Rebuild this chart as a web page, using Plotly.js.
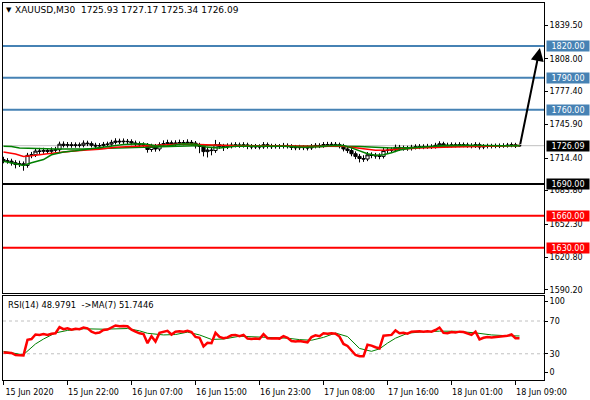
<!DOCTYPE html>
<html><head><meta charset="utf-8">
<script src="https://cdn.plot.ly/plotly-3.0.1.min.js"></script>
<style>html,body{margin:0;padding:0;background:#fff}#chart{width:590px;height:400px}</style>
</head><body><div id="chart"></div>
<script>
// ---- data ----
const symbolTitle = 'XAUUSD,M30  1725.93 1727.17 1725.34 1726.09';
const rsiTitle = 'RSI(14) 48.9791  ->MA(7) 51.7446';

const openP = [1713.0,1711.8,1711.5,1710.0,1708.3,1709.0,1707.5,1717.0,1717.5,1721.0,
1720.8,1721.5,1720.8,1721.8,1722.3,1727.5,1726.5,1727.0,1726.3,1726.8,
1726.5,1728.5,1728.0,1726.5,1725.8,1726.2,1727.3,1727.5,1729.2,1730.3,
1729.8,1730.2,1729.9,1728.6,1727.8,1727.0,1726.5,1722.5,1725.5,1723.0,
1727.0,1728.0,1728.8,1727.5,1728.5,1729.0,1728.8,1729.2,1728.5,1726.0,
1725.5,1720.5,1722.0,1721.5,1727.0,1725.5,1725.0,1725.5,1726.5,1726.8,
1726.2,1726.8,1725.3,1725.0,1725.2,1725.0,1727.0,1725.5,1725.2,1725.5,
1725.3,1726.3,1725.5,1724.5,1724.2,1724.5,1724.3,1724.0,1725.5,1726.3,
1726.0,1727.2,1727.0,1727.3,1727.0,1725.8,1723.0,1721.5,1718.5,1716.0,
1714.0,1713.5,1717.5,1717.0,1716.5,1716.0,1721.5,1721.8,1722.0,1724.5,
1723.5,1723.8,1723.5,1724.5,1725.0,1725.2,1725.0,1725.3,1725.2,1726.5,
1727.8,1726.5,1726.3,1726.8,1726.6,1727.0,1726.8,1726.3,1725.8,1727.0,
1724.8,1725.5,1725.8,1725.6,1725.9,1726.0,1726.2,1726.5,1726.9,1725.93];
const highP = [1715.6,1714.3,1713.8,1712.4,1711.9,1711.2,1719.3,1720.2,1723.3,1724.0,
1724.1,1723.9,1724.5,1725.0,1729.9,1730.1,1729.5,1729.4,1729.2,1729.1,
1731.1,1730.8,1730.1,1728.8,1728.5,1729.6,1729.9,1731.6,1733.1,1732.7,
1732.9,1732.4,1732.1,1730.9,1730.0,1729.3,1728.6,1727.9,1727.7,1729.3,
1731.1,1731.7,1731.0,1731.2,1731.8,1731.4,1732.1,1731.4,1730.5,1728.8,
1727.7,1725.1,1724.9,1731.5,1729.4,1727.8,1728.3,1729.0,1729.4,1729.0,
1729.4,1728.9,1727.6,1727.7,1727.4,1729.5,1729.1,1727.9,1727.8,1727.6,
1728.7,1728.3,1727.5,1726.8,1726.9,1726.6,1726.4,1727.7,1728.5,1728.4,
1729.5,1729.7,1729.6,1729.5,1729.0,1727.8,1725.3,1723.7,1720.7,1718.3,
1717.1,1720.1,1719.8,1719.3,1718.9,1723.8,1724.3,1724.5,1727.1,1726.8,
1726.2,1726.0,1726.9,1727.4,1727.6,1727.4,1727.8,1727.5,1728.8,1730.3,
1729.8,1728.9,1729.2,1729.0,1729.4,1729.1,1728.9,1728.4,1729.4,1729.0,
1727.6,1728.0,1727.9,1728.1,1728.2,1728.4,1728.7,1729.1,1728.8,1727.17];
const lowP = [1709.5,1709.1,1707.3,1704.7,1706.0,1702.5,1705.3,1714.3,1715.4,1718.3,
1718.5,1718.4,1718.7,1719.5,1720.4,1724.4,1724.3,1724.1,1724.2,1724.3,
1724.5,1725.7,1724.4,1723.5,1723.7,1724.4,1725.2,1725.5,1727.2,1727.6,
1727.8,1727.5,1726.5,1725.7,1724.8,1724.2,1719.5,1720.3,1720.4,1720.9,
1725.0,1726.0,1725.3,1725.5,1726.5,1726.5,1726.8,1726.1,1723.4,1719.0,
1716.0,1715.0,1717.0,1719.3,1723.1,1721.1,1722.9,1723.5,1724.4,1724.1,
1724.3,1722.8,1722.7,1723.0,1722.6,1723.1,1723.4,1723.0,1723.3,1723.1,
1723.4,1723.4,1722.0,1721.8,1722.1,1721.9,1721.6,1722.1,1723.5,1723.8,
1724.1,1724.9,1725.0,1724.8,1723.5,1720.7,1719.1,1716.1,1713.4,1710.3,
1710.8,1711.5,1714.3,1713.8,1713.3,1714.0,1719.1,1719.5,1720.0,1721.2,
1721.4,1721.3,1721.5,1722.5,1722.8,1722.8,1723.1,1723.0,1723.3,1724.5,
1724.3,1724.2,1724.4,1724.4,1724.6,1724.6,1724.1,1723.6,1723.9,1722.5,
1722.8,1723.5,1723.5,1723.7,1723.8,1724.1,1724.3,1724.6,1723.9,1725.34];
const closeP = [1711.8,1711.5,1710.0,1708.3,1709.0,1707.5,1717.0,1717.5,1721.0,1720.8,
1721.5,1720.8,1721.8,1722.3,1727.5,1726.5,1727.0,1726.3,1726.8,1726.5,
1728.5,1728.0,1726.5,1725.8,1726.2,1727.3,1727.5,1729.2,1730.3,1729.8,
1730.2,1729.9,1728.6,1727.8,1727.0,1726.5,1722.5,1725.5,1723.0,1727.0,
1728.0,1728.8,1727.5,1728.5,1729.0,1728.8,1729.2,1728.5,1726.0,1725.5,
1720.5,1722.0,1721.5,1727.0,1725.5,1725.0,1725.5,1726.5,1726.8,1726.2,
1726.8,1725.3,1725.0,1725.2,1725.0,1727.0,1725.5,1725.2,1725.5,1725.3,
1726.3,1725.5,1724.5,1724.2,1724.5,1724.3,1724.0,1725.5,1726.3,1726.0,
1727.2,1727.0,1727.3,1727.0,1725.8,1723.0,1721.5,1718.5,1716.0,1714.0,
1713.5,1717.5,1717.0,1716.5,1716.0,1721.5,1721.8,1722.0,1724.5,1723.5,
1723.8,1723.5,1724.5,1725.0,1725.2,1725.0,1725.3,1725.2,1726.5,1727.8,
1726.5,1726.3,1726.8,1726.6,1727.0,1726.8,1726.3,1725.8,1727.0,1724.8,
1725.5,1725.8,1725.6,1725.9,1726.0,1726.2,1726.5,1726.9,1725.93,1726.09];
const barIndex = openP.map((_, i) => i);

const maSlowBar = [0,2,4,8,13,20,27,33,41,50,60,70,80,85,89,93,97,101,106,112,120,129];
const maSlow = [1725.6,1725.3,1724.0,1723.4,1723.0,1723.0,1723.8,1724.8,1725.6,1726.3,1726.2,1726.0,1725.9,1726.0,1725.4,1724.6,1724.0,1724.2,1724.9,1725.6,1725.9,1726.0];
const maMidBar = [0,3,5,7,11,14,17,20,24,28,33,40,45,50,55,60,70,80,84,87,90,93,96,100,104,110,116,122,129];
const maMid = [1720.2,1718.3,1716.0,1716.5,1718.5,1719.9,1720.8,1721.8,1722.7,1724.6,1725.8,1726.8,1727.6,1727.0,1725.9,1725.9,1725.7,1725.4,1726.0,1724.5,1722.8,1721.8,1722.0,1723.0,1723.8,1724.6,1725.3,1726.0,1726.3];
const maFastBar = [0,3,5,7,10,12,15,18,21,25,30,35,38,41,45,48,51,54,58,64,70,75,79,83,85,87,89,91,93,95,97,99,102,105,110,115,120,125,129];
const maFast = [1711.5,1709.5,1707.5,1710.0,1713.0,1717.5,1720.2,1721.4,1723.0,1725.0,1727.3,1727.8,1726.0,1725.8,1728.0,1727.5,1724.5,1724.0,1725.6,1725.6,1725.5,1724.6,1725.0,1726.5,1726.3,1724.0,1721.0,1718.5,1717.0,1717.5,1719.5,1722.0,1724.0,1725.0,1726.2,1726.6,1726.0,1726.0,1726.2];

const rsi = [31.5,31.5,31.0,28.5,28.5,28.0,47.0,48.0,53.5,53.0,
54.0,53.0,54.5,55.0,62.5,60.0,61.0,59.5,60.5,60.0,
62.0,61.0,57.0,55.0,56.0,59.0,59.5,62.5,64.5,63.5,
64.0,63.5,59.5,57.0,55.0,54.0,43.0,51.5,45.0,55.5,
57.0,58.0,53.5,57.0,57.5,57.0,58.0,56.5,50.5,49.5,
39.0,43.5,43.0,55.5,50.5,49.0,50.0,52.5,53.0,51.5,
53.0,48.5,48.0,48.5,48.0,54.0,49.0,48.5,49.0,48.5,
51.5,49.5,45.5,45.0,45.5,45.0,44.0,50.5,52.5,51.5,
55.0,54.5,55.0,54.5,51.0,42.0,39.5,34.0,28.5,27.0,
27.0,41.0,40.0,38.0,36.5,52.0,52.5,53.0,58.5,55.0,
55.5,54.5,57.0,57.5,57.5,57.0,57.5,57.0,59.0,62.0,
55.5,55.0,56.5,56.0,57.0,56.5,55.0,53.0,57.0,47.5,
49.5,50.5,50.0,50.5,51.0,51.5,52.0,53.5,49.0,48.98];
const rsiMaBar = [0,2,4,5,6,8,10,13,16,20,25,31,34,36,40,43,46,49,52,55,59,63,67,71,74,77,80,83,86,88,89,92,94,96,98,101,104,109,113,118,122,126,129];
const rsiMa = [33.0,31.0,29.5,29.0,33.0,42.0,48.0,55.5,58.5,60.5,60.0,60.8,58.0,55.0,53.0,53.5,56.4,53.0,47.5,48.0,51.4,50.5,50.0,49.0,47.3,46.5,50.0,55.3,51.0,41.0,36.5,33.0,36.0,43.0,49.0,55.0,56.5,57.6,57.5,55.5,53.0,52.0,51.74];

const blueLevels = [1820, 1790, 1760];
const blackLevels = [1690];
const redLevels = [1660, 1630];
const lastPrice = 1726.09;
const rsiLevels = [70, 30];

const priceTicks = [1839.50, 1808.00, 1777.40, 1745.90, 1714.40, 1683.80, 1652.30, 1620.80, 1590.20];
const rsiTickText = ['100', '70', '30', '0'];
const timeTickBars = [0, 16, 32, 48, 64, 80, 96, 112, 128];
const timeTickText = ['15 Jun 2020','15 Jun 22:00','16 Jun 07:00','16 Jun 15:00','16 Jun 23:00','17 Jun 08:00','17 Jun 16:00','18 Jun 01:00','18 Jun 09:00'];

const arrowFrom = [129.1, 1726.09];
const arrowTo = [134.1, 1818.1];

// ---- chart ----
const FONT = 'DejaVu Sans';
const FS = 8;
const W = 590, H = 400, ML = 3, MR = 46, MT = 3, MB = 20;
const PW = W - ML - MR, PH = H - MT - MB;
const pxToPaperX = px => (px - ML) / PW;
const pxToPaperY = py => (H - MB - py) / PH;

const traces = [
  {type: 'scatter', mode: 'lines', x: maSlowBar, y: maSlow, xaxis: 'x', yaxis: 'y', line: {color: '#008000', width: 1.5}, hoverinfo: 'skip'},
  {type: 'scatter', mode: 'lines', x: maMidBar, y: maMid, xaxis: 'x', yaxis: 'y', line: {color: '#ff0000', width: 1.5}, hoverinfo: 'skip'},
  {type: 'scatter', mode: 'lines', x: maFastBar, y: maFast, xaxis: 'x', yaxis: 'y', line: {color: '#008000', width: 1.5}, hoverinfo: 'skip'},
  {type: 'candlestick', x: barIndex, open: openP, high: highP, low: lowP, close: closeP,
   xaxis: 'x', yaxis: 'y', hoverinfo: 'skip', whiskerwidth: 0,
   increasing: {line: {color: '#000', width: 1}, fillcolor: '#fff'},
   decreasing: {line: {color: '#000', width: 1}, fillcolor: '#000'}},
  {type: 'scatter', mode: 'lines', x: rsiMaBar, y: rsiMa, xaxis: 'x2', yaxis: 'y2', line: {color: '#008000', width: 1}, hoverinfo: 'skip'},
  {type: 'scatter', mode: 'lines', x: barIndex, y: rsi, xaxis: 'x2', yaxis: 'y2', line: {color: '#ff0000', width: 2.5}, hoverinfo: 'skip'}
];

const shapes = [];
shapes.push({type: 'line', xref: 'paper', x0: 0, x1: 1, yref: 'y', y0: lastPrice, y1: lastPrice, layer: 'below', line: {color: '#c0c0c0', width: 1}});
const addLevels = (arr, color) => arr.forEach(v => shapes.push({type: 'line', xref: 'paper', x0: 0, x1: 1, yref: 'y', y0: v, y1: v, line: {color: color, width: 2}}));
addLevels(blueLevels, '#4682b4');
addLevels(blackLevels, '#000000');
addLevels(redLevels, '#ff0000');
rsiLevels.forEach(v => shapes.push({type: 'line', xref: 'paper', x0: 0, x1: 1, yref: 'y2', y0: v, y1: v, layer: 'below', line: {color: '#c0c0c0', width: 1, dash: '3px,3px'}}));

const annotations = [];
const boxX = pxToPaperX(546);
const addBox = (v, bg) => annotations.push({xref: 'paper', x: boxX, xanchor: 'left', yref: 'y', y: v, yanchor: 'middle',
  text: v.toFixed(2), showarrow: false, bgcolor: bg, width: 42, height: 10, borderpad: 0, align: 'center',
  font: {family: FONT, size: FS, color: '#fff'}});
blueLevels.forEach(v => addBox(v, '#4682b4'));
addBox(lastPrice, '#000000');
blackLevels.forEach(v => addBox(v, '#000000'));
redLevels.forEach(v => addBox(v, '#ff0000'));

annotations.push({xref: 'paper', yref: 'paper', x: pxToPaperX(4), y: pxToPaperY(10), xanchor: 'left', yanchor: 'middle',
  text: '▼', showarrow: false, font: {family: FONT, size: 7, color: '#000'}});
annotations.push({xref: 'paper', yref: 'paper', x: pxToPaperX(13), y: pxToPaperY(10), xanchor: 'left', yanchor: 'middle',
  text: symbolTitle, showarrow: false, font: {family: FONT, size: 9, color: '#000'}});
annotations.push({xref: 'paper', yref: 'paper', x: pxToPaperX(6), y: pxToPaperY(305), xanchor: 'left', yanchor: 'middle',
  text: rsiTitle, showarrow: false, font: {family: FONT, size: 8.4, color: '#000'}});
annotations.push({xref: 'x', yref: 'y', x: arrowTo[0], y: arrowTo[1], axref: 'x', ayref: 'y', ax: arrowFrom[0], ay: arrowFrom[1],
  text: '', showarrow: true, arrowhead: 2, arrowsize: 1.3, arrowwidth: 2, arrowcolor: '#000', standoff: 0, startstandoff: 0});

const xRange = [-0.125, -0.125 + PW / 4];
const axisCommon = {showgrid: false, zeroline: false, showline: true, linecolor: '#000', linewidth: 1, mirror: true, fixedrange: true};

const layout = {
  width: W, height: H,
  margin: {l: ML, r: MR, t: MT, b: MB, pad: 0},
  paper_bgcolor: '#fff', plot_bgcolor: '#fff',
  showlegend: false,
  font: {family: FONT, size: FS, color: '#000'},
  boxgap: 0, boxgroupgap: 0.2,
  xaxis: Object.assign({}, axisCommon, {anchor: 'y', range: xRange, showticklabels: false, ticks: '', rangeslider: {visible: false}}),
  xaxis2: Object.assign({}, axisCommon, {anchor: 'y2', range: xRange, matches: 'x', ticks: 'outside', ticklen: 4, tickcolor: '#000',
    tickmode: 'array', tickvals: timeTickBars, ticktext: timeTickText, ticklabelshift: 26, ticklabelstandoff: 0,
    tickfont: {family: FONT, size: FS, color: '#000'}}),
  yaxis: Object.assign({}, axisCommon, {domain: [pxToPaperY(293), 1], range: [1587.3, 1860.5], side: 'right', ticks: 'outside', ticklen: 3, tickcolor: '#000',
    tickmode: 'array', tickvals: priceTicks, ticktext: priceTicks.map(v => v.toFixed(2)), tickfont: {family: FONT, size: FS, color: '#000'}}),
  yaxis2: Object.assign({}, axisCommon, {domain: [0, pxToPaperY(296)], range: [-2, 100.5], side: 'right', ticks: 'outside', ticklen: 3, tickcolor: '#000',
    tickmode: 'array', tickvals: [94.4, 70, 30, 7.7], ticktext: rsiTickText, tickfont: {family: FONT, size: FS, color: '#000'}}),
  shapes: shapes,
  annotations: annotations
};

Plotly.newPlot('chart', traces, layout, {staticPlot: true, displayModeBar: false});
</script>
</body></html>
